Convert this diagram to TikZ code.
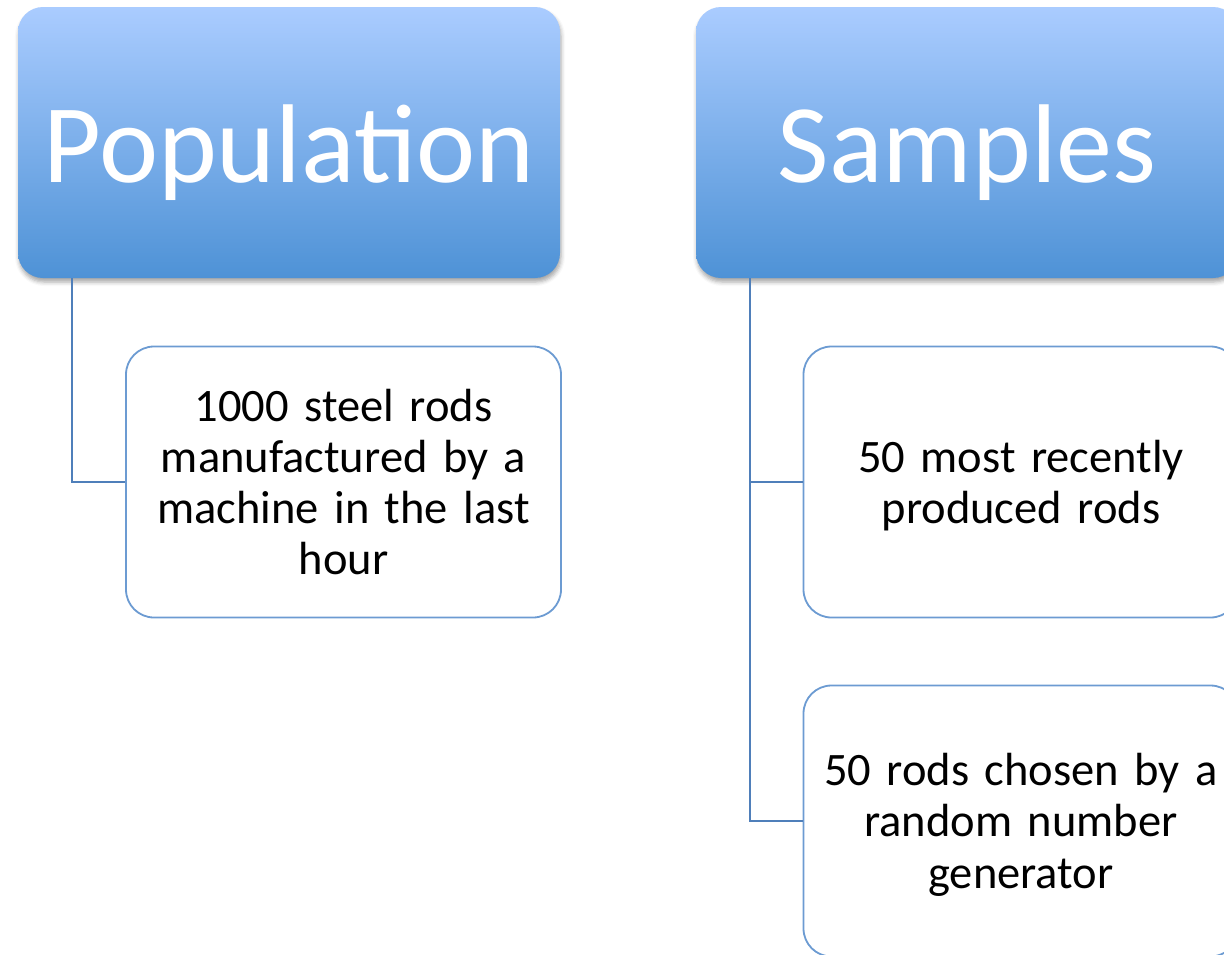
\documentclass[tikz,border=0pt]{standalone}
\usepackage{fontspec}
\setmainfont{Carlito}
\usetikzlibrary{shadows.blur}
\definecolor{topc}{HTML}{AACCFF}
\definecolor{botc}{HTML}{4E92D6}
\definecolor{edgec}{HTML}{6C9BD2}
\definecolor{linec}{HTML}{4F7FBA}
\begin{document}
\begin{tikzpicture}[x=1pt,y=-1pt,
  head/.style={rounded corners=25pt, top color=topc, bottom color=botc, draw=none,
    minimum width=542pt, minimum height=271pt, inner sep=0pt, text=white,
    font=\fontsize{112}{120}\selectfont, text height=100pt, text depth=21pt,
    blur shadow={shadow xshift=1pt, shadow yshift=-4pt, shadow blur radius=4pt, shadow opacity=35}},
  item/.style={rounded corners=28pt, draw=edgec, line width=1.8pt, fill=white,
    minimum width=435pt, minimum height=271pt, inner sep=0pt, align=center,
    text width=420pt, font=\fontsize{46.5}{51.3}\selectfont, text height=41.6pt},
  conn/.style={draw=linec, line width=1.8pt}]
\useasboundingbox (0,0) rectangle (1224,954);
\node[head] (pop) at (289,142.5) {Population};
\node[head] (samp) at (967,142.5) {Samples};
\node[item, text depth=163.6pt] (c1) at (343.5,482) {1000 steel rods\\manufactured by a\\machine in the last\\hour};
\node[item, text depth=61pt] (c2) at (1021,482) {50 most recently\\produced rods};
\node[item, text depth=112.3pt] (c3) at (1021,821) {50 rods chosen by a\\random number\\generator};
\draw[conn] ([xshift=54pt]pop.south west) |- (c1.west);
\draw[conn] ([xshift=54pt]samp.south west) |- (c2.west);
\draw[conn] ([xshift=54pt]samp.south west) |- (c3.west);
\end{tikzpicture}
\end{document}
